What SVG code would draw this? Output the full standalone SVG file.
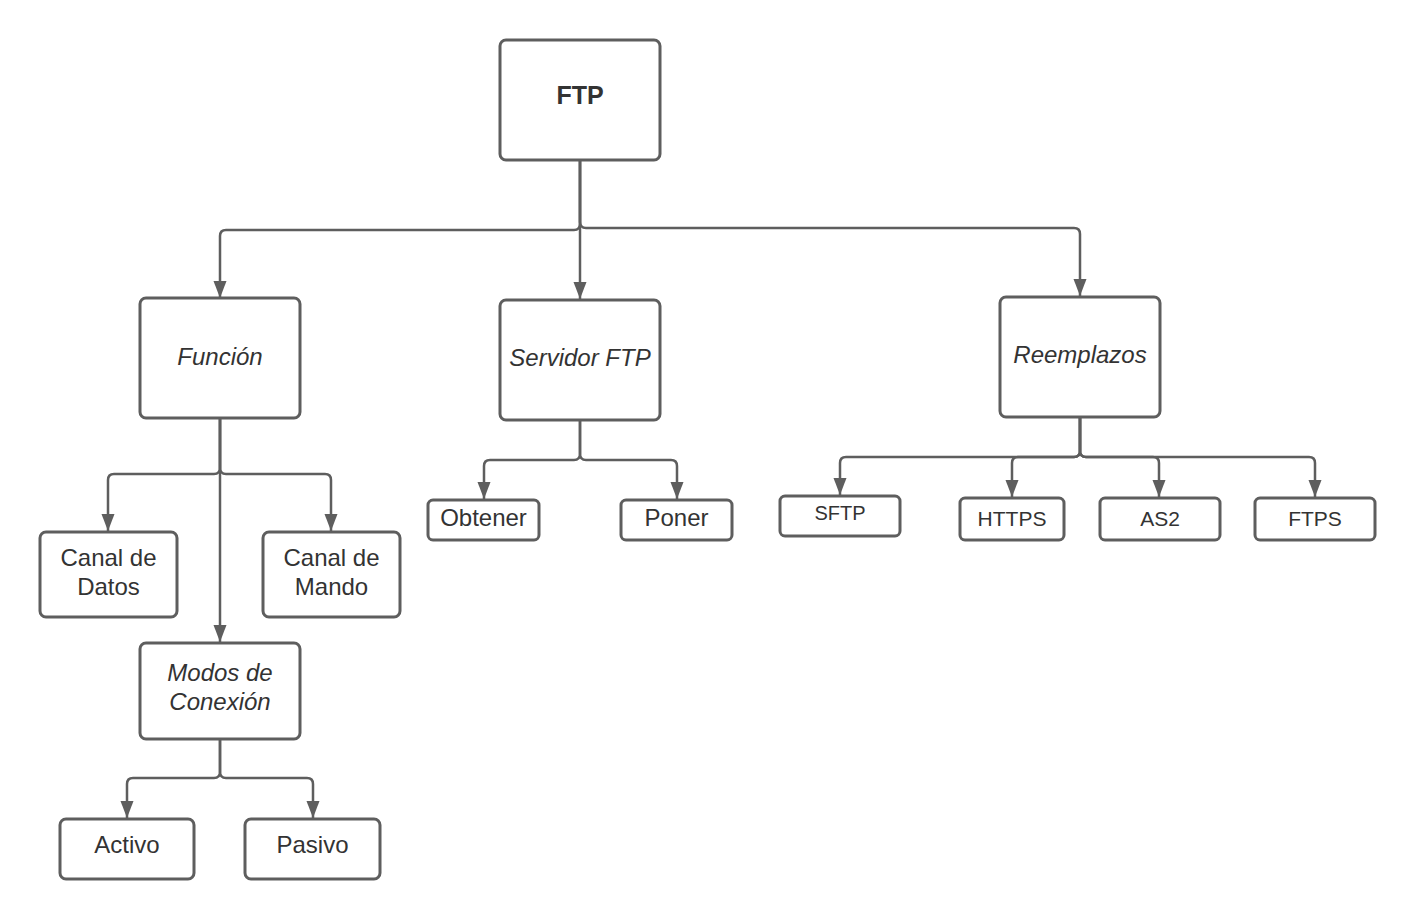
<svg xmlns="http://www.w3.org/2000/svg" width="1415" height="919" viewBox="0 0 1415 919">
<style>
.box{fill:#ffffff;stroke:#5e5e5e;stroke-width:3}
.c{fill:none;stroke:#5e5e5e;stroke-width:2.5}
text{font-family:"Liberation Sans",Arial,sans-serif;fill:#333333;text-anchor:middle}
.t{font-size:24px}
.i{font-size:24px;font-style:italic}
.s{font-size:21px}
</style>
<defs>
<marker id="arr" markerUnits="userSpaceOnUse" markerWidth="18" markerHeight="14" refX="17" refY="6.5" orient="auto">
<path d="M0,0 L17,6.5 L0,13 z" fill="#5e5e5e"/>
</marker>
</defs>
<rect x="0" y="0" width="1415" height="919" fill="#ffffff"/>
<g id="connectors">
<path class="c" marker-end="url(#arr)" d="M580 160 V224 Q580 230 574 230 H226 Q220 230 220 236 V298"/>
<path class="c" marker-end="url(#arr)" d="M580 160 V299"/>
<path class="c" marker-end="url(#arr)" d="M580 160 V222 Q580 228 586 228 H1074 Q1080 228 1080 234 V296"/>
<path class="c" marker-end="url(#arr)" d="M220 418 V468 Q220 474 214 474 H114 Q108 474 108 480 V531"/>
<path class="c" marker-end="url(#arr)" d="M220 418 V468 Q220 474 226 474 H325 Q331 474 331 480 V531"/>
<path class="c" marker-end="url(#arr)" d="M220 418 V642"/>
<path class="c" marker-end="url(#arr)" d="M220 739 V772 Q220 778 214 778 H133 Q127 778 127 784 V818"/>
<path class="c" marker-end="url(#arr)" d="M220 739 V772 Q220 778 226 778 H307 Q313 778 313 784 V818"/>
<path class="c" marker-end="url(#arr)" d="M580 420 V454 Q580 460 574 460 H490 Q484 460 484 466 V499"/>
<path class="c" marker-end="url(#arr)" d="M580 420 V454 Q580 460 586 460 H671 Q677 460 677 466 V499"/>
<path class="c" marker-end="url(#arr)" d="M1080 417 V451 Q1080 457 1074 457 H846 Q840 457 840 463 V495"/>
<path class="c" marker-end="url(#arr)" d="M1080 417 V451 Q1080 457 1074 457 H1018 Q1012 457 1012 463 V497"/>
<path class="c" marker-end="url(#arr)" d="M1080 417 V451 Q1080 457 1086 457 H1153 Q1159 457 1159 463 V497"/>
<path class="c" marker-end="url(#arr)" d="M1080 417 V451 Q1080 457 1086 457 H1309 Q1315 457 1315 463 V497"/>
</g>
<g id="ftp"><rect class="box" x="500" y="40" width="160" height="120" rx="6"/><text x="580" y="104" font-size="25" font-weight="bold">FTP</text></g>
<g id="funcion"><rect class="box" x="140" y="298" width="160" height="120" rx="6"/><text class="i" x="220" y="365">Función</text></g>
<g id="servidor"><rect class="box" x="500" y="300" width="160" height="120" rx="6"/><text class="i" x="580" y="366">Servidor FTP</text></g>
<g id="reemplazos"><rect class="box" x="1000" y="297" width="160" height="120" rx="6"/><text class="i" x="1080" y="363">Reemplazos</text></g>
<g id="canal-datos"><rect class="box" x="40" y="532" width="137" height="85" rx="6"/><text class="t" x="108.5" y="566">Canal de</text><text class="t" x="108.5" y="595">Datos</text></g>
<g id="canal-mando"><rect class="box" x="263" y="532" width="137" height="85" rx="6"/><text class="t" x="331.5" y="566">Canal de</text><text class="t" x="331.5" y="595">Mando</text></g>
<g id="modos"><rect class="box" x="140" y="643" width="160" height="96" rx="6"/><text class="i" x="220" y="681">Modos de</text><text class="i" x="220" y="710">Conexión</text></g>
<g id="activo"><rect class="box" x="60" y="819" width="134" height="60" rx="6"/><text class="t" x="127" y="853">Activo</text></g>
<g id="pasivo"><rect class="box" x="245" y="819" width="135" height="60" rx="6"/><text class="t" x="312.5" y="853">Pasivo</text></g>
<g id="obtener"><rect class="box" x="428" y="500" width="111" height="40" rx="5"/><text class="t" x="483.5" y="526">Obtener</text></g>
<g id="poner"><rect class="box" x="621" y="500" width="111" height="40" rx="5"/><text class="t" x="676.5" y="526">Poner</text></g>
<g id="sftp"><rect class="box" x="780" y="496" width="120" height="40" rx="5"/><text x="840" y="520" font-size="20">SFTP</text></g>
<g id="https"><rect class="box" x="960" y="498" width="104" height="42" rx="5"/><text class="s" x="1012" y="526">HTTPS</text></g>
<g id="as2"><rect class="box" x="1100" y="498" width="120" height="42" rx="5"/><text class="s" x="1160" y="526">AS2</text></g>
<g id="ftps"><rect class="box" x="1255" y="498" width="120" height="42" rx="5"/><text class="s" x="1315" y="526">FTPS</text></g>
</svg>
